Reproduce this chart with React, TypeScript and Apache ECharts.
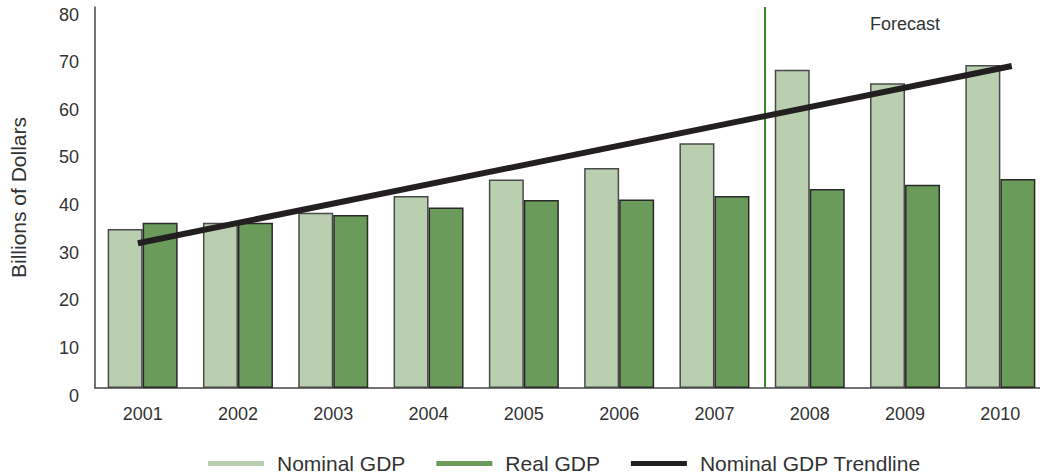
import React, { useEffect, useRef } from "react";
import * as echarts from "echarts";

const years = ["2001", "2002", "2003", "2004", "2005", "2006", "2007", "2008", "2009", "2010"];
const nominalGDP = [33.4, 34.7, 36.8, 40.3, 43.8, 46.2, 51.4, 66.8, 64.0, 67.8];
const realGDP = [34.7, 34.7, 36.3, 37.9, 39.5, 39.6, 40.3, 41.8, 42.7, 43.9];
// trendline endpoints: [category position (1 = 2001), value]
const trendline = [
  [0.95, 30.4],
  [10.12, 67.6],
];
const forecastStart = 7.53;
const yTicks = { min: 0, max: 80, interval: 10 };

const FONT = "Liberation Sans, Arial, sans-serif";

export default function App() {
  const ref = useRef<HTMLDivElement>(null);
  useEffect(() => {
    if (!ref.current) return;
    const chart = echarts.init(ref.current, null, { renderer: "svg" });
    chart.setOption({
      animation: false,
      textStyle: { fontFamily: FONT },
      grid: { left: 95, right: 0, top: 7, bottom: 87, containLabel: false, outerBoundsMode: "none" },
      legend: {
        left: 208,
        top: 453,
        padding: 0,
        icon: "rect",
        itemWidth: 56,
        itemHeight: 5,
        itemGap: 31,
        itemStyle: { borderWidth: 0 },
        textStyle: { fontSize: 21, lineHeight: 21, color: "#333", fontFamily: FONT, padding: [0, 0, 0, 8] },
        data: ["Nominal GDP", "Real GDP", "Nominal GDP Trendline"],
      },
      xAxis: [
        {
          type: "category",
          data: years,
          axisLine: { lineStyle: { color: "#444", width: 1.5 } },
          axisTick: { show: false },
          axisLabel: { fontSize: 18, lineHeight: 18, color: "#333", margin: 17, fontFamily: FONT },
        },
        {
          type: "value",
          min: 0.5,
          max: 10.5,
          show: false,
          splitLine: { show: false },
        },
      ],
      yAxis: {
        type: "value",
        min: yTicks.min,
        max: yTicks.max,
        interval: yTicks.interval,
        name: "Billions of Dollars",
        nameLocation: "middle",
        nameRotate: 90,
        nameGap: 66,
        nameTextStyle: { fontSize: 21, color: "#333", fontFamily: FONT },
        axisLine: { show: true, lineStyle: { color: "#444", width: 1.5 } },
        axisTick: { show: false },
        splitLine: { show: false },
        axisLabel: {
          fontSize: 18,
          lineHeight: 15,
          color: "#333",
          margin: 16,
          verticalAlign: "top",
          fontFamily: FONT,
        },
      },
      series: [
        {
          name: "Nominal GDP",
          type: "bar",
          xAxisIndex: 0,
          data: nominalGDP,
          barWidth: 35,
          barGap: "0%",
          itemStyle: { color: "#b9cfb0", borderColor: "#4a4a4a", borderWidth: 1.5 },
        },
        {
          name: "Real GDP",
          type: "bar",
          xAxisIndex: 0,
          data: realGDP,
          barWidth: 35,
          barGap: "0%",
          itemStyle: { color: "#6a9b5a", borderColor: "#2a2a2a", borderWidth: 1.5 },
        },
        {
          name: "Nominal GDP Trendline",
          type: "line",
          xAxisIndex: 1,
          data: trendline,
          symbol: "none",
          color: "#231f20",
          lineStyle: { color: "#231f20", width: 6 },
          z: 5,
          markLine: {
            silent: true,
            symbol: "none",
            label: { show: false },
            lineStyle: { color: "#3a8a2c", width: 2, type: "solid" },
            data: [{ xAxis: forecastStart }],
          },
        },
      ],
      graphic: [
        {
          type: "text",
          left: 870,
          top: 15,
          style: { text: "Forecast", fontSize: 18, fill: "#333", fontFamily: FONT },
        },
      ],
    });
    return () => chart.dispose();
  }, []);
  return (
    <div style={{ position: "absolute", left: 0, top: 0, width: 1040, height: 475, overflow: "hidden" }}>
      <div ref={ref} style={{ width: 1048, height: 475 }} />
    </div>
  );
}
